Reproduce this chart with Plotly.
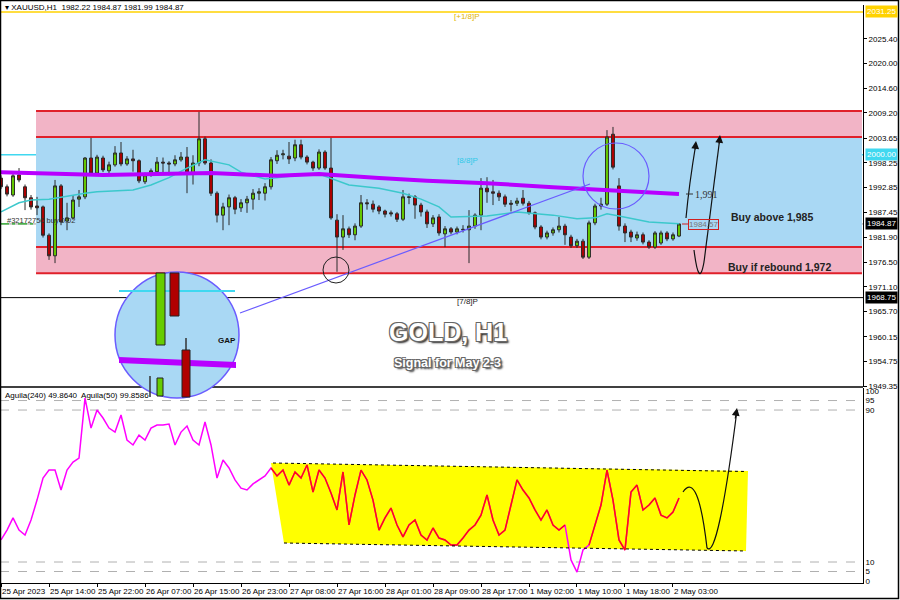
import plotly.graph_objects as go

# ---------------- data ----------------
TICK_BARS = [0, 8, 16, 24, 32, 40, 48, 56, 64, 72, 80, 88, 96, 104, 112]
TICK_LABELS = ["25 Apr 2023", "25 Apr 14:00", "25 Apr 22:00", "26 Apr 07:00", "26 Apr 15:00",
               "26 Apr 23:00", "27 Apr 08:00", "27 Apr 16:00", "28 Apr 01:00", "28 Apr 09:00",
               "28 Apr 17:00", "1 May 02:00", "1 May 10:00", "1 May 18:00", "2 May 03:00"]

OPEN = [1994.9, 1993.0, 1991.2, 1995.6, 1993.0, 1990.6, 1988.8, 1988.6, 1982.4, 1977.9,
        1993.2, 1985.5, 1986.2, 1990.3, 1990.8, 1999.3, 1996.0, 1999.3, 1996.5, 1997.8,
        2000.4, 1998.0, 1999.1, 1998.7, 1994.1, 1995.6, 1996.3, 1998.4, 1998.2, 1998.0,
        1998.9, 1999.5, 1996.0, 1998.2, 2003.5, 1998.2, 1991.6, 1986.8, 1988.6, 1990.6,
        1988.4, 1989.5, 1990.3, 1991.6, 1991.6, 1993.0, 1998.7, 2000.0, 1999.7, 1999.3,
        2002.2, 1999.5, 1998.4, 1997.1, 2000.6, 1997.1, 1985.7, 1982.0, 1983.8, 1982.5,
        1984.4, 1989.5, 1989.2, 1988.6, 1987.7, 1987.3, 1987.1, 1985.9, 1990.8, 1990.8,
        1989.0, 1987.5, 1984.9, 1986.4, 1982.7, 1983.8, 1983.1, 1983.7, 1983.6, 1984.4,
        1986.8, 1992.7, 1991.9, 1991.6, 1990.8, 1989.4, 1989.4, 1990.5, 1989.4, 1987.3,
        1984.2, 1982.0, 1982.9, 1983.6, 1984.4, 1982.0, 1980.1, 1981.1, 1977.6, 1985.1,
        1988.8, 1989.2, 2004.5, 1993.2, 1984.4, 1983.1, 1981.8, 1982.5, 1980.9, 1979.8,
        1980.7, 1982.9, 1981.6, 1982.22]
HIGH = [1995.5, 1993.5, 1995.9, 1997.1, 1993.5, 1991.2, 1990.8, 1988.9, 1982.8, 1994.5,
        1993.6, 1989.5, 1991.2, 1992.3, 1999.5, 2003.7, 2000.0, 1999.8, 1998.5, 2001.9,
        2002.8, 1999.7, 2001.1, 1999.0, 1996.1, 1997.0, 1999.5, 1999.4, 1998.6, 1999.9,
        2000.6, 2001.7, 1999.9, 2009.4, 2004.0, 1999.0, 1992.0, 1989.5, 1991.3, 1991.0,
        1990.3, 1991.0, 1992.5, 1992.7, 1993.8, 1999.5, 2001.0, 2001.1, 2002.8, 2003.3,
        2003.3, 1999.9, 1998.7, 2001.2, 2001.0, 2003.7, 1987.0, 1986.8, 1984.3, 1985.0,
        1991.2, 1990.3, 1990.0, 1989.0, 1988.0, 1987.8, 1987.5, 1992.3, 1991.5, 1991.2,
        1989.5, 1988.0, 1986.8, 1987.0, 1984.4, 1984.2, 1984.3, 1984.6, 1987.9, 1987.2,
        1994.9, 1995.1, 1994.5, 1992.2, 1991.3, 1990.1, 1990.6, 1992.3, 1989.9, 1987.6,
        1984.6, 1983.4, 1984.1, 1986.4, 1984.9, 1982.5, 1981.6, 1981.6, 1985.6, 1989.3,
        1990.6, 2005.4, 2006.1, 1994.9, 1985.0, 1983.6, 1983.2, 1983.0, 1981.3, 1983.3,
        1983.4, 1983.3, 1983.0, 1984.87]
LOW = [1992.5, 1990.9, 1990.8, 1994.0, 1987.9, 1988.0, 1986.8, 1981.9, 1977.0, 1976.3,
       1984.6, 1983.5, 1985.8, 1988.6, 1990.3, 1995.6, 1995.4, 1996.2, 1996.0, 1997.4,
       1997.5, 1997.6, 1996.3, 1993.8, 1993.6, 1995.2, 1995.9, 1995.6, 1995.5, 1997.5,
       1998.5, 1991.6, 1993.5, 1997.5, 1997.8, 1991.0, 1985.2, 1983.5, 1984.6, 1987.0,
       1987.5, 1987.3, 1988.0, 1990.1, 1990.0, 1992.4, 1998.0, 1999.0, 1998.0, 1998.6,
       1999.0, 1997.9, 1996.5, 1996.7, 1996.7, 1985.8, 1974.4, 1979.2, 1981.8, 1981.3,
       1984.0, 1988.0, 1987.4, 1987.0, 1986.3, 1986.5, 1985.3, 1985.5, 1989.2, 1986.0,
       1986.5, 1984.0, 1984.2, 1982.3, 1979.8, 1982.6, 1982.6, 1983.0, 1976.3, 1983.8,
       1983.5, 1989.5, 1989.0, 1989.9, 1988.6, 1987.6, 1988.8, 1988.9, 1986.9, 1983.7,
       1981.5, 1981.5, 1982.3, 1983.0, 1980.3, 1979.6, 1979.6, 1977.2, 1977.2, 1984.6,
       1988.0, 1988.8, 1996.8, 1983.4, 1980.9, 1980.9, 1981.2, 1980.4, 1979.4, 1979.4,
       1980.3, 1981.1, 1981.2, 1981.99]
CLOSE = [1993.0, 1991.4, 1995.4, 1994.5, 1990.6, 1988.6, 1988.4, 1982.4, 1977.9, 1993.2,
         1985.3, 1986.2, 1990.1, 1990.8, 1999.3, 1996.0, 1999.5, 1996.7, 1997.8, 2000.4,
         1998.0, 1999.1, 1998.7, 1994.3, 1995.6, 1996.5, 1998.4, 1998.2, 1998.0, 1998.9,
         1999.5, 1996.0, 1998.2, 2003.5, 1998.2, 1991.6, 1986.8, 1988.6, 1990.6, 1988.1,
         1989.5, 1990.3, 1991.6, 1991.9, 1993.0, 1998.9, 1999.9, 2000.2, 1999.1, 2002.2,
         1999.5, 1998.4, 1997.1, 2000.6, 1997.1, 1986.2, 1982.0, 1983.8, 1982.5, 1984.4,
         1989.5, 1989.3, 1988.1, 1987.7, 1987.0, 1987.1, 1985.9, 1990.8, 1990.7, 1989.0,
         1987.5, 1984.9, 1986.2, 1982.9, 1983.8, 1983.1, 1983.8, 1983.6, 1984.4, 1986.8,
         1992.7, 1991.9, 1991.6, 1990.8, 1989.2, 1989.2, 1989.9, 1989.4, 1987.3, 1984.2,
         1982.0, 1982.9, 1983.6, 1984.4, 1982.5, 1980.1, 1981.1, 1977.6, 1985.1, 1988.8,
         1989.2, 2003.9, 1997.3, 1984.4, 1982.9, 1982.0, 1982.5, 1980.9, 1979.8, 1982.9,
         1982.9, 1981.6, 1982.5, 1984.87]

MA_SLOW_BAR = [0, 17, 35, 46, 53, 57, 63, 71, 81, 92, 98, 105, 113]
MA_SLOW_VAL = [1996.2, 1995.6, 1996.0, 1995.4, 1995.8, 1995.4, 1994.9, 1994.3, 1993.8, 1992.9,
               1992.5, 1991.9, 1991.4]
MA_FAST_BAR = [0, 3, 5, 8, 14, 16, 22, 25, 28, 31, 34, 38, 40, 44, 49, 53, 58, 63, 67, 70,
               73, 75, 81, 86, 92, 96, 99, 101, 103, 108, 113]
MA_FAST_VAL = [1987.5, 1989.5, 1990.1, 1990.3, 1991.6, 1991.9, 1992.3, 1993.4, 1995.0, 1997.1,
               1998.9, 1997.8, 1996.2, 1994.7, 1995.4, 1995.8, 1993.4, 1992.7, 1991.6, 1990.3,
               1988.6, 1986.4, 1986.6, 1987.5, 1986.8, 1986.0, 1986.2, 1987.1, 1986.6, 1985.3,
               1984.9]

AGUILA = [21.6, 26.8, 33.2, 26.8, 24.2, 32.1, 42.6, 54.2, 58.4, 58.4,
          47.9, 58.4, 62.6, 64.7, 96.3, 80.5, 90.0, 85.8, 80.5, 78.4,
          87.4, 74.2, 71.6, 76.8, 74.2, 80.5, 82.1, 82.1, 82.6, 71.6,
          78.4, 81.6, 74.2, 71.6, 83.7, 71.6, 54.2, 63.7, 59.5, 53.2,
          48.9, 47.9, 51.1, 53.2, 55.3, 59.5, 55.3, 58.4, 50.5, 57.4,
          54.2, 61.1, 46.8, 58.4, 54.2, 46.3, 37.4, 57.4, 29.5, 45.3,
          58.4, 53.2, 42.6, 26.8, 33.2, 38.4, 29.5, 23.2, 29.5, 32.1,
          24.2, 21.6, 27.9, 22.6, 21.6, 18.9, 18.9, 22.6, 26.8, 29.5,
          34.7, 45.3, 32.1, 24.2, 26.8, 40.0, 53.2, 47.9, 43.7, 37.4,
          32.1, 37.4, 29.5, 26.8, 29.5, 11.1, 4.7, 16.3, 18.9, 29.5,
          40.0, 58.4, 42.6, 21.6, 16.3, 46.8, 50.5, 37.4, 40.0, 43.7,
          34.7, 33.2, 36.3, 43.7]
AGUILA_RED_FROM = 45
AGUILA_OUTSIDE = [95, 96, 97]

PRICE_TICKS = [2025.40, 2020.00, 2014.60, 2009.20, 2003.65, 1998.25, 1992.85, 1987.45,
               1981.90, 1976.50, 1971.10, 1965.70, 1960.15, 1954.75, 1949.35]
LEVEL_TOP = 2031.25
LEVEL_88 = 2000.00
LEVEL_78 = 1968.75
LAST_PRICE = 1984.87
ZONE_PINK_TOP = (2003.9, 2009.6)
ZONE_BLUE = (1979.8, 2003.9)
ZONE_PINK_BOT = (1974.1, 1979.8)
IND_LEVELS = [95, 90, 10, 5]
IND_TICKS = [0, 5, 10, 90, 95, 100]

# ---------------- geometry helpers (pixel -> paper) ----------------
W, H = 900, 600
ML, MR, MT, MB = 0, 37, 5, 17
PW, PH = W - ML - MR, H - MT - MB


def px(x):
    return (x - ML) / PW


def py(y):
    return (H - MB - y) / PH


def ppath(points, close=False):
    s = "M " + " L ".join(f"{px(x):.5f},{py(y):.5f}" for x, y in points)
    return s + (" Z" if close else "")


def qpath(p0, c, p1):
    return (f"M {px(p0[0]):.5f},{py(p0[1]):.5f} Q {px(c[0]):.5f},{py(c[1]):.5f} "
            f"{px(p1[0]):.5f},{py(p1[1]):.5f}")


XR = [-0.17, 143.67]
MAIN_DOM = [py(387), 1.0]
IND_DOM = [0.0, py(388)]

fig = go.Figure()

BARS = list(range(len(OPEN)))
fig.add_trace(go.Candlestick(
    x=BARS, open=OPEN, high=HIGH, low=LOW, close=CLOSE,
    increasing=dict(fillcolor="#66cc00", line=dict(color="#2b2b2b", width=1)),
    decreasing=dict(fillcolor="#b00000", line=dict(color="#2b2b2b", width=1)),
    whiskerwidth=0, showlegend=False, hoverinfo="skip", xaxis="x", yaxis="y"))

fig.add_trace(go.Scatter(x=MA_FAST_BAR, y=MA_FAST_VAL, mode="lines",
                         line=dict(color="#3cc8cc", width=1.5), showlegend=False,
                         hoverinfo="skip", xaxis="x", yaxis="y"))
fig.add_trace(go.Scatter(x=MA_SLOW_BAR, y=MA_SLOW_VAL, mode="lines",
                         line=dict(color="#b800ff", width=4), showlegend=False,
                         hoverinfo="skip", xaxis="x", yaxis="y"))

# indicator
fig.add_trace(go.Scatter(x=BARS, y=AGUILA, mode="lines", line=dict(color="#ff00ff", width=1.5),
                         showlegend=False, hoverinfo="skip", xaxis="x", yaxis="y2"))
red_y = [None if (i < AGUILA_RED_FROM or i in AGUILA_OUTSIDE) else v for i, v in enumerate(AGUILA)]
fig.add_trace(go.Scatter(x=BARS, y=red_y, mode="lines", line=dict(color="#ff1010", width=1.5),
                         showlegend=False, hoverinfo="skip", xaxis="x", yaxis="y2",
                         connectgaps=False))

shapes = []
ann = []

# zones
ZX0 = (36 - 1) / 6.0
ZX1 = (862 - 1) / 6.0
for lo, hi, col in [(ZONE_PINK_TOP[0], ZONE_PINK_TOP[1], "#f2b4c6"),
                    (ZONE_BLUE[0], ZONE_BLUE[1], "#a9d8f4"),
                    (ZONE_PINK_BOT[0], ZONE_PINK_BOT[1], "#f2b4c6")]:
    shapes.append(dict(type="rect", xref="x", yref="y", x0=ZX0, x1=ZX1, y0=lo, y1=hi,
                       fillcolor=col, line=dict(width=0), layer="below"))
for lvl in [ZONE_PINK_TOP[1], ZONE_PINK_TOP[0], ZONE_BLUE[0], ZONE_PINK_BOT[0]]:
    shapes.append(dict(type="line", xref="x", yref="y", x0=ZX0, x1=ZX1, y0=lvl, y1=lvl,
                       line=dict(color="#e0202a", width=2), layer="below"))

# murrey levels
shapes.append(dict(type="line", xref="paper", yref="y", x0=0, x1=1, y0=LEVEL_TOP, y1=LEVEL_TOP,
                   line=dict(color="#ffd200", width=1.5)))
shapes.append(dict(type="line", xref="paper", yref="y", x0=0, x1=1, y0=LEVEL_88, y1=LEVEL_88,
                   line=dict(color="#40d8f0", width=1.5), layer="below"))
shapes.append(dict(type="line", xref="paper", yref="y", x0=0, x1=1, y0=LEVEL_78, y1=LEVEL_78,
                   line=dict(color="#000000", width=1)))
shapes.append(dict(type="line", xref="paper", yref="y", x0=0, x1=1, y0=LAST_PRICE, y1=LAST_PRICE,
                   line=dict(color="#9a9a9a", width=1), layer="below"))
shapes.append(dict(type="line", xref="paper", yref="y", x0=0, x1=1, y0=LAST_PRICE, y1=LAST_PRICE,
                   line=dict(color="#22aa22", width=1.2, dash="dashdot"), layer="below"))

# indicator yellow channel
shapes.append(dict(type="path", xref="paper", yref="paper",
                   path=ppath([(271, 463), (748, 471), (746, 551), (284, 543)], close=True),
                   fillcolor="#ffff00", line=dict(width=0), layer="below"))
shapes.append(dict(type="line", xref="paper", yref="paper", x0=px(273), y0=py(463), x1=px(746), y1=py(471.5),
                   line=dict(color="#000", width=1, dash="dot")))
shapes.append(dict(type="line", xref="paper", yref="paper", x0=px(284), y0=py(543), x1=px(746), y1=py(551),
                   line=dict(color="#000", width=1, dash="dot")))
for lv in IND_LEVELS:
    shapes.append(dict(type="line", xref="paper", yref="y2", x0=0, x1=1, y0=lv, y1=lv,
                       line=dict(color="#b0b0b0", width=1, dash="dash"), layer="below"))

# panel borders
shapes.append(dict(type="line", xref="paper", yref="paper", x0=0, x1=1, y0=py(387), y1=py(387),
                   line=dict(color="#000", width=1.5)))
shapes.append(dict(type="rect", xref="paper", yref="paper", x0=px(0.5), x1=px(898.5), y0=py(598.5),
                   y1=py(0.5), line=dict(color="#000", width=1.5)))

# violet trend line + circles
shapes.append(dict(type="line", xref="paper", yref="paper", x0=px(240), y0=py(313), x1=px(590), y1=py(184),
                   line=dict(color="#6a5cff", width=1.2)))
shapes.append(dict(type="circle", xref="paper", yref="paper", x0=px(583), x1=px(649), y0=py(209), y1=py(143),
                   line=dict(color="#6a5cff", width=1.2)))
shapes.append(dict(type="circle", xref="paper", yref="paper", x0=px(323), x1=px(349), y0=py(283), y1=py(257),
                   line=dict(color="#222", width=1)))

# magnifier
shapes.append(dict(type="circle", xref="paper", yref="paper", x0=px(115), x1=px(239), y0=py(398), y1=py(272),
                   fillcolor="#a9d8f4", line=dict(color="#6a5cff", width=1.5)))
shapes.append(dict(type="line", xref="paper", yref="paper", x0=px(119), x1=px(235), y0=py(291), y1=py(291),
                   line=dict(color="#40d8f0", width=2)))
shapes.append(dict(type="path", xref="paper", yref="paper",
                   path=ppath([(119, 357), (236, 362), (236, 368), (119, 363)], close=True),
                   fillcolor="#b800ff", line=dict(width=0)))
shapes.append(dict(type="rect", xref="paper", yref="paper", x0=px(156), x1=px(165), y0=py(345), y1=py(273),
                   fillcolor="#66cc00", line=dict(color="#222", width=1)))
shapes.append(dict(type="rect", xref="paper", yref="paper", x0=px(170), x1=px(179), y0=py(316), y1=py(273),
                   fillcolor="#b00000", line=dict(color="#222", width=1)))
shapes.append(dict(type="line", xref="paper", yref="paper", x0=px(150), x1=px(150), y0=py(397), y1=py(376),
                   line=dict(color="#333", width=1.5)))
shapes.append(dict(type="rect", xref="paper", yref="paper", x0=px(157), x1=px(163), y0=py(396), y1=py(378),
                   fillcolor="#66cc00", line=dict(color="#222", width=1)))
shapes.append(dict(type="line", xref="paper", yref="paper", x0=px(186), x1=px(186), y0=py(350), y1=py(338),
                   line=dict(color="#333", width=1.5)))
shapes.append(dict(type="rect", xref="paper", yref="paper", x0=px(182), x1=px(190), y0=py(397), y1=py(350),
                   fillcolor="#b00000", line=dict(color="#222", width=1)))

# black hand-drawn arrows
shapes.append(dict(type="path", xref="paper", yref="paper", path=qpath((686, 218), (689, 185), (696, 143)),
                   line=dict(color="#111", width=1.2)))
shapes.append(dict(type="path", xref="paper", yref="paper", path=qpath((694, 250), (699, 290), (704, 262)),
                   line=dict(color="#111", width=1.2)))
shapes.append(dict(type="path", xref="paper", yref="paper", path=qpath((704, 262), (712, 200), (720, 137)),
                   line=dict(color="#111", width=1.2)))
shapes.append(dict(type="path", xref="paper", yref="paper", path=qpath((683, 492), (698, 470), (707, 548)),
                   line=dict(color="#111", width=1.2)))
shapes.append(dict(type="path", xref="paper", yref="paper", path=qpath((707, 548), (718, 560), (737, 410)),
                   line=dict(color="#111", width=1.2)))
# small line to last-price label
shapes.append(dict(type="line", xref="paper", yref="paper", x0=px(682), x1=px(688), y0=py(224), y1=py(224),
                   line=dict(color="#d02020", width=1)))
shapes.append(dict(type="line", xref="paper", yref="paper", x0=px(686), x1=px(693), y0=py(194), y1=py(194),
                   line=dict(color="#333", width=1)))

for (x, y, dx, dy) in [(696, 141, -1, 10), (720, 135, -1, 10), (737, 408, -2, 12)]:
    ann.append(dict(xref="paper", yref="paper", x=px(x), y=py(y), ax=dx, ay=dy, text="",
                    showarrow=True, arrowhead=2, arrowsize=1.3, arrowwidth=1.2, arrowcolor="#111"))


def text(x, y, t, size=8, color="#000", bold=False, anchor="left", family="Liberation Sans", **kw):
    ann.append(dict(xref="paper", yref="paper", x=px(x), y=py(y), text=(f"<b>{t}</b>" if bold else t),
                    showarrow=False, xanchor=anchor, yanchor="middle",
                    font=dict(size=size, color=color, family=family), **kw))


text(3, 7, "▾ XAUUSD,H1  1982.22 1984.87 1981.99 1984.87", size=8)
text(467, 17, "[+1/8]P", size=8, color="#e0b400", anchor="center")
text(467, 160, "[8/8]P", size=8, color="#30c8e8", anchor="center")
text(467, 301, "[7/8]P", size=8, color="#222", anchor="center")
text(5, 220, "#32172756 buy 0.02", size=7.5, color="#333")
text(729, 217, "Buy above 1,985", size=10.5, color="#222", bold=True)
text(726, 267, "Buy if rebound 1,972", size=10.5, color="#222", bold=True)
text(693, 194, "1,991", size=10, color="#333", family="Liberation Serif")
text(688, 225, "1984.57", size=8, color="#777", bordercolor="#d02020", borderwidth=1, borderpad=0)
text(216, 340, "GAP", size=8, color="#111", bold=True)
text(3, 395, "Aguila(240) 49.8640  Aguila(50) 99.8586", size=8)

shadow = "-1px -1px 0 #666, 1px -1px 0 #666, -1px 1px 0 #666, 1px 1px 0 #666, 2px 2px 2px #222"
ann.append(dict(xref="paper", yref="paper", x=px(448), y=py(332), text="<b>GOLD, H1</b>", showarrow=False,
                xanchor="center", yanchor="middle",
                font=dict(size=25, color="#ffffff", family="Liberation Sans", shadow=shadow)))
ann.append(dict(xref="paper", yref="paper", x=px(448), y=py(363), text="<b>Signal for May 2-3</b>",
                showarrow=False, xanchor="center", yanchor="middle",
                font=dict(size=12.5, color="#ffffff", family="Liberation Sans", shadow=shadow)))

# right-axis value boxes
for val, bg, fg in [(LEVEL_TOP, "#ffd200", "#ffffff"), (LEVEL_88, "#40d8f0", "#ffffff"),
                    (LAST_PRICE, "#000000", "#ffffff"), (LEVEL_78, "#000000", "#ffffff")]:
    ann.append(dict(xref="paper", yref="y", x=px(865), y=val, text=f"{val:.2f}", showarrow=False,
                    xanchor="left", yanchor="middle", bgcolor=bg, borderpad=1,
                    font=dict(size=8, color=fg, family="Liberation Sans")))

fig.update_layout(
    width=W, height=H, margin=dict(l=ML, r=MR, t=MT, b=MB, autoexpand=False),
    paper_bgcolor="#ffffff", plot_bgcolor="#ffffff", showlegend=False,
    shapes=shapes, annotations=ann,
    xaxis=dict(range=XR, anchor="y2", showgrid=False, zeroline=False, rangeslider=dict(visible=False),
               tickvals=TICK_BARS, ticktext=TICK_LABELS, ticks="outside", ticklen=3, tickcolor="#000",
               ticklabelposition="outside right", showline=True, linecolor="#000", linewidth=1,
               tickangle=0, automargin=False,
               tickfont=dict(size=8, family="Liberation Sans", color="#000")),
    yaxis=dict(domain=MAIN_DOM, range=[1949.19, 2032.78], side="right", anchor="x", showgrid=False,
               zeroline=False, tickvals=PRICE_TICKS, ticktext=[f"{v:.2f}" for v in PRICE_TICKS],
               ticks="outside", ticklen=3, tickcolor="#000", showline=True, linecolor="#000",
               automargin=False,
               tickfont=dict(size=8, family="Liberation Sans", color="#000")),
    yaxis2=dict(domain=IND_DOM, range=[-1.05, 101.6], side="right", anchor="x", showgrid=False,
                zeroline=False, tickvals=IND_TICKS, ticktext=[str(v) for v in IND_TICKS], ticks="",
                showline=True, linecolor="#000", automargin=False,
                tickfont=dict(size=8, family="Liberation Sans", color="#000")),
)

fig.write_html("out.html", config={"displayModeBar": False},
               post_script="document.body.style.margin='0';document.body.style.overflow='hidden';")
